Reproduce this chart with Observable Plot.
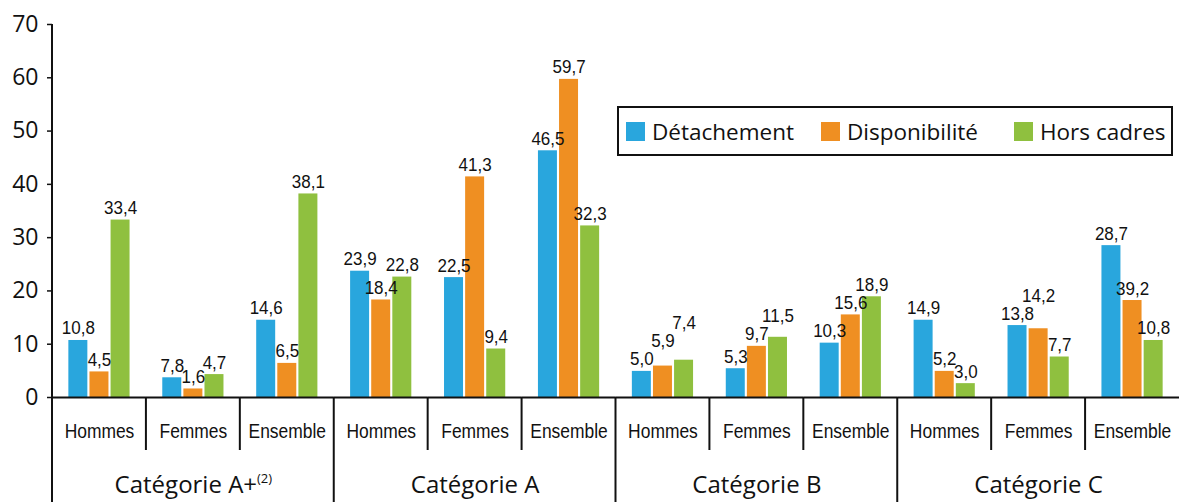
<!DOCTYPE html>
<html><head><meta charset="utf-8">
<script src="https://cdn.jsdelivr.net/npm/d3@7"></script>
<script src="https://cdn.jsdelivr.net/npm/@observablehq/plot@0.6"></script>
<style>
body{margin:0;background:#fff;}
#chart{position:relative;width:1179px;height:502px;overflow:hidden;}
#legend{position:absolute;left:617px;top:106px;width:556px;height:50px;border:2px solid #111;box-sizing:border-box;font-family:"Open Sans",sans-serif;font-size:22.5px;color:#111;background:#fff;}
#legend .item{position:absolute;top:0;height:46px;display:flex;align-items:center;white-space:nowrap;}
#legend .sw{width:19px;height:19px;margin-right:7px;}
</style></head><body>
<div id="chart"></div>
<script>
const groups = ["Catégorie A+", "Catégorie A", "Catégorie B", "Catégorie C"];
const groupNotes = ["(2)", "", "", ""];
const subgroups = ["Hommes", "Femmes", "Ensemble"];
const series = ["Détachement", "Disponibilité", "Hors cadres"];
const colors = ["#29a6dd", "#ef8f22", "#8fc03f"];
// bar heights as drawn (A+ H,F,E | A H,F,E | B H,F,E | C H,F,E)
const detachement   = [10.7, 3.7, 14.5, 23.7, 22.5, 46.3, 4.9, 5.4, 10.2, 14.5, 13.5, 28.5];
const disponibilite = [4.8, 1.6, 6.4, 18.3, 41.4, 59.7, 5.9, 9.6, 15.5, 4.9, 12.9, 18.2];
const horsCadres    = [33.3, 4.3, 38.2, 22.6, 9.1, 32.2, 7.0, 11.3, 18.9, 2.6, 7.6, 10.7];
// value labels as printed
const labelDet  = ["10,8", "7,8", "14,6", "23,9", "22,5", "46,5", "5,0", "5,3", "10,3", "14,9", "13,8", "28,7"];
const labelDisp = ["4,5", "1,6", "6,5", "18,4", "41,3", "59,7", "5,9", "9,7", "15,6", "5,2", "14,2", "39,2"];
const labelHors = ["33,4", "4,7", "38,1", "22,8", "9,4", "32,3", "7,4", "11,5", "18,9", "3,0", "7,7", "10,8"];
const yTicks = [0, 10, 20, 30, 40, 50, 60, 70];

const W = 1179, H = 502, MT = 24, MB = 105;
const ppu = (H - MT - MB) / 70; // pixels per unit of the y scale

const valueArrays = [detachement, disponibilite, horsCadres];
const labelArrays = [labelDet, labelDisp, labelHors];
const keys = [], subRows = [], groupRows = [], rows = [];
groups.forEach((g, gi) => subgroups.forEach((s, si) => {
  const i = gi * 3 + si;
  const key = gi + "-" + si;
  keys.push(key);
  subRows.push({key, sub: s});
  if (si === 1) groupRows.push({key, group: g});
  let prev = null;
  series.forEach((se, k) => {
    const value = valueArrays[k][i];
    // label baseline just above the bar; lift it above its left neighbour if they collide
    const textH = 13 / ppu, gap = 6 / ppu, tol = 3 / ppu;
    let ly = value + gap;
    if (prev) {
      const overlap = Math.min(ly + textH, prev.ly + textH) - Math.max(ly, prev.ly);
      if (overlap > tol) ly = Math.max(ly, prev.ly + textH + 5 / ppu);
    }
    const row = {key, series: se, value, ly, label: labelArrays[k][i]};
    rows.push(row);
    prev = row;
  });
}));

const plot = Plot.plot({
  width: W, height: H,
  marginLeft: 52, marginRight: 0, marginTop: MT, marginBottom: MB,
  style: {fontFamily: "'Open Sans',sans-serif", color: "#111", background: "transparent", overflow: "visible"},
  fx: {domain: keys, padding: 0, round: false, axis: null},
  x: {domain: series, paddingInner: 0.1, paddingOuter: 0.775, round: false, axis: null},
  y: {domain: [0, 70], axis: null},
  color: {domain: series, range: colors},
  marks: [
    Plot.barY(rows, {fx: "key", x: "series", y: "value", fill: "series"}),
    Plot.ruleY([0], {stroke: "#111", strokeWidth: 2}),
    Plot.axisY({ticks: yTicks, tickSize: 5, tickPadding: 9, label: null, stroke: "#111", strokeWidth: 1.5, fontSize: 23, fill: "#111", tickFormat: d => d}),
    Plot.text(rows, {fx: "key", x: "series", y: "ly", text: "label", lineAnchor: "bottom", fontSize: 18.5, fontFamily: "Liberation Sans", fill: "#111"}),
    Plot.text(subRows, {fx: "key", text: "sub", frameAnchor: "bottom", dy: 40, fontSize: 20.5, fontFamily: "Liberation Sans", fill: "#111"}),
    Plot.text(groupRows, {fx: "key", text: "group", frameAnchor: "bottom", dy: 95, fontSize: 24, fill: "#111"})
  ]
});

const svg = d3.select(plot);
// condensed look for value labels and sub-category labels
function condense(sel, k) {
  sel.each(function() {
    const x = this.getAttribute("x"), y = this.getAttribute("y");
    const tr = this.getAttribute("transform") || "";
    if (x != null || y != null) {
      const xx = +x || 0, yy = +y || 0;
      this.setAttribute("transform", `${tr} translate(${xx},${yy}) scale(${k},1) translate(${-xx},${-yy})`);
    } else {
      this.setAttribute("transform", `${tr} scale(${k},1)`);
    }
  });
}
svg.selectAll("g").filter(function() { return this.getAttribute("font-family") === "Liberation Sans"; })
  .each(function() {
    const fs = +this.getAttribute("font-size");
    condense(d3.select(this).selectAll("text"), fs < 19 ? 0.92 : 0.85);
  });

// hierarchical category axis: y-axis line and dividers, positioned with the plot's own scales
const fxS = plot.scale("fx"), yS = plot.scale("y");
const y0 = yS.apply(0), yTop = yS.apply(yTicks[yTicks.length - 1]);
keys.forEach((k, i) => {
  const x = fxS.apply(k);
  svg.append("line")
    .attr("x1", x).attr("x2", x)
    .attr("y1", i === 0 ? yTop : y0).attr("y2", i % 3 === 0 ? H : y0 + 53)
    .attr("stroke", "#111").attr("stroke-width", 2);
});
// superscript notes on group labels
svg.selectAll("text").each(function() {
  const gi = groups.indexOf(this.textContent);
  if (gi >= 0 && groupNotes[gi]) {
    d3.select(this).append("tspan").attr("font-size", 13).attr("dy", -10).text(groupNotes[gi]);
  }
});

const chart = document.getElementById("chart");
chart.appendChild(plot);
const legend = document.createElement("div");
legend.id = "legend";
const legendLeft = [7, 202, 395];
series.forEach((s, k) => {
  const it = document.createElement("div");
  it.className = "item";
  it.style.left = legendLeft[k] + "px";
  const sw = document.createElement("span");
  sw.className = "sw";
  sw.style.background = colors[k];
  it.appendChild(sw);
  it.appendChild(document.createTextNode(s));
  legend.appendChild(it);
});
chart.appendChild(legend);
</script>
</body></html>
